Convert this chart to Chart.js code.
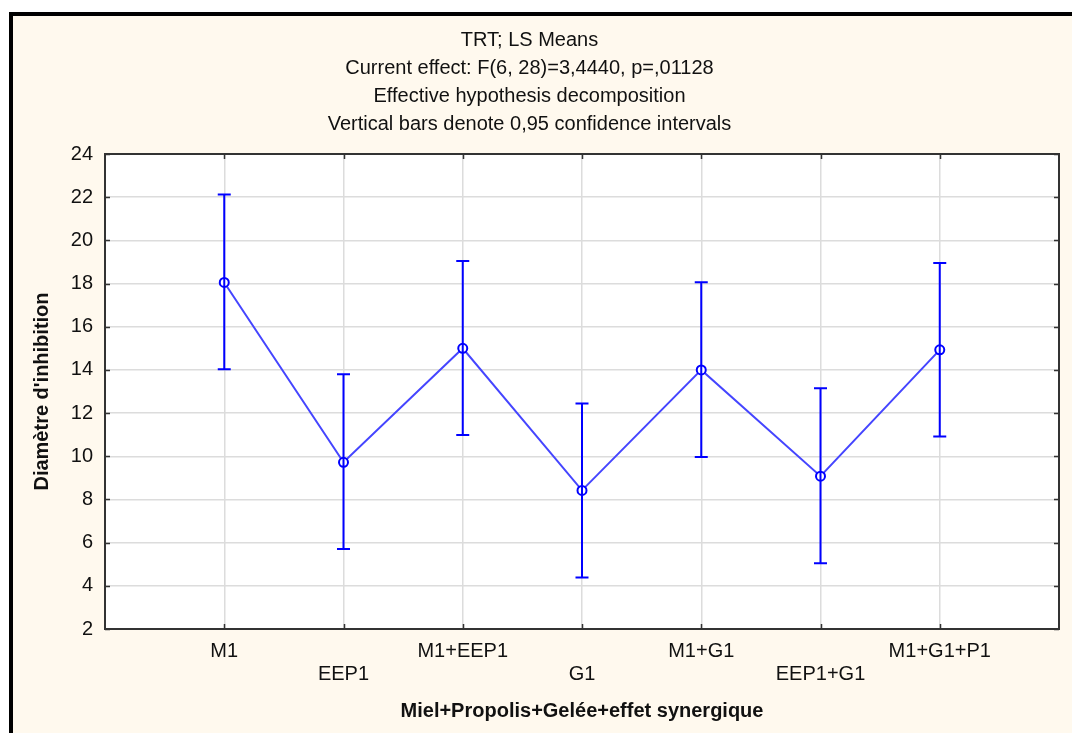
<!DOCTYPE html>
<html>
<head>
<meta charset="utf-8">
<script src="https://cdn.jsdelivr.net/npm/chart.js@4.4.1/dist/chart.umd.min.js"></script>
<style>
    body { margin: 0; background: #fff; }
    #frame {
        position: absolute; left: 9px; top: 12px; width: 1063px; height: 721px;
        border-left: 4px solid #000; border-top: 4px solid #000;
        background: #fff9ee; box-sizing: border-box;
    }
    #wrap { position: absolute; left: 0; top: 0; width: 1072px; height: 733px; }
</style>
</head>
<body>
<div id="frame"></div>
<div id="wrap"><canvas id="lsChart" width="1072" height="733"></canvas></div>
<script>
const titleLines = [
    'TRT; LS Means',
    'Current effect: F(6, 28)=3,4440, p=,01128',
    'Effective hypothesis decomposition',
    'Vertical bars denote 0,95 confidence intervals'
];
const categories = ['M1', 'EEP1', 'M1+EEP1', 'G1', 'M1+G1', 'EEP1+G1', 'M1+G1+P1'];
const means = [18.05, 9.72, 15.0, 8.42, 14.0, 9.08, 14.93];
const lower = [14.03, 5.7, 10.98, 4.38, 9.97, 5.05, 10.92];
const upper = [22.13, 13.8, 19.05, 12.45, 18.06, 13.15, 18.95];
const yTicks = [2, 4, 6, 8, 10, 12, 14, 16, 18, 20, 22, 24];

(function() {
    const FONT = 'Liberation Sans, Arial, sans-serif';

    const plotBg = {
        id: 'plotBg',
        beforeDraw(chart) {
            const { ctx, chartArea: a } = chart;
            ctx.save();
            ctx.fillStyle = '#ffffff';
            ctx.fillRect(a.left, a.top, a.right - a.left, a.bottom - a.top);
            ctx.restore();
        }
    };

    // frame round the plot with short ticks pointing inwards on all four sides
    const plotFrame = {
        id: 'plotFrame',
        beforeDatasetsDraw(chart) {
            const { ctx, chartArea: a, scales } = chart;
            ctx.save();
            ctx.strokeStyle = '#333';
            ctx.lineWidth = 1.5;
            ctx.beginPath();
            yTicks.forEach(v => {
                const y = Math.round(scales.y.getPixelForValue(v)) + 0.5;
                ctx.moveTo(a.left, y); ctx.lineTo(a.left + 5, y);
                ctx.moveTo(a.right, y); ctx.lineTo(a.right - 5, y);
            });
            categories.forEach((c, i) => {
                const x = Math.round(scales.x.getPixelForValue(i + 1)) + 0.5;
                ctx.moveTo(x, a.bottom); ctx.lineTo(x, a.bottom - 5);
                ctx.moveTo(x, a.top); ctx.lineTo(x, a.top + 5);
            });
            ctx.stroke();
            ctx.lineWidth = 2;
            ctx.strokeRect(a.left, a.top, a.right - a.left, a.bottom - a.top);
            ctx.restore();
        }
    };

    const errorBars = {
        id: 'errorBars',
        afterDatasetsDraw(chart) {
            const { ctx, scales } = chart;
            ctx.save();
            ctx.strokeStyle = '#0000ff';
            ctx.lineWidth = 2;
            ctx.beginPath();
            categories.forEach((c, i) => {
                const x = scales.x.getPixelForValue(i + 1);
                const yLo = scales.y.getPixelForValue(lower[i]);
                const yHi = scales.y.getPixelForValue(upper[i]);
                ctx.moveTo(x, yLo); ctx.lineTo(x, yHi);
                ctx.moveTo(x - 6.5, yLo); ctx.lineTo(x + 6.5, yLo);
                ctx.moveTo(x - 6.5, yHi); ctx.lineTo(x + 6.5, yHi);
            });
            ctx.stroke();
            ctx.restore();
        }
    };

    const ctx = document.getElementById('lsChart').getContext('2d');

    new Chart(ctx, {
        type: 'line',
        data: {
            datasets: [{
                label: 'LS Means',
                data: means.map((m, i) => ({ x: i + 1, y: m })),
                borderColor: '#4545ff',
                borderWidth: 2,
                pointRadius: 4.5,
                pointBorderWidth: 2,
                pointBorderColor: '#0000ff',
                pointBackgroundColor: '#ffffff',
                tension: 0
            }]
        },
        options: {
            responsive: false,
            animation: false,
            layout: { padding: { left: 0, right: 13, top: 0, bottom: 0 } },
            plugins: {
                legend: { display: false },
                tooltip: { enabled: false },
                title: {
                    display: true,
                    text: titleLines,
                    color: '#111',
                    font: { family: FONT, size: 20, weight: 'normal', lineHeight: 1.4 },
                    padding: { top: 26, bottom: 16 }
                }
            },
            scales: {
                x: {
                    type: 'linear',
                    min: 0,
                    max: 8,
                    border: { display: false },
                    grid: { color: '#dcdcdc', lineWidth: 1.5, drawTicks: false },
                    ticks: {
                        stepSize: 1,
                        padding: 11,
                        color: '#111',
                        autoSkip: false,
                        maxRotation: 0,
                        font: { family: FONT, size: 20, lineHeight: 1.15 },
                        callback: v => {
                            if (v < 1 || v > categories.length) return '';
                            const name = categories[v - 1];
                            return v % 2 === 0 ? ['', name] : name;
                        }
                    },
                    title: {
                        display: true,
                        text: 'Miel+Propolis+Gelée+effet synergique',
                        color: '#111',
                        font: { family: FONT, size: 20, weight: 'bold' },
                        padding: { top: 10, bottom: 10 }
                    },
                    afterFit: s => { s.height = 104; }
                },
                y: {
                    min: 2,
                    max: 24,
                    border: { display: false },
                    grid: { color: '#dcdcdc', lineWidth: 1.5, drawTicks: false },
                    ticks: {
                        stepSize: 2,
                        padding: 12,
                        color: '#111',
                        font: { family: FONT, size: 20 }
                    },
                    title: {
                        display: true,
                        text: "Diamètre d'inhibition",
                        color: '#111',
                        font: { family: FONT, size: 20, weight: 'bold' },
                        padding: { top: 30, bottom: 0 }
                    },
                    afterFit: s => { s.width = 105; }
                }
            }
        },
        plugins: [plotBg, plotFrame, errorBars]
    });
})();
</script>
</body>
</html>
